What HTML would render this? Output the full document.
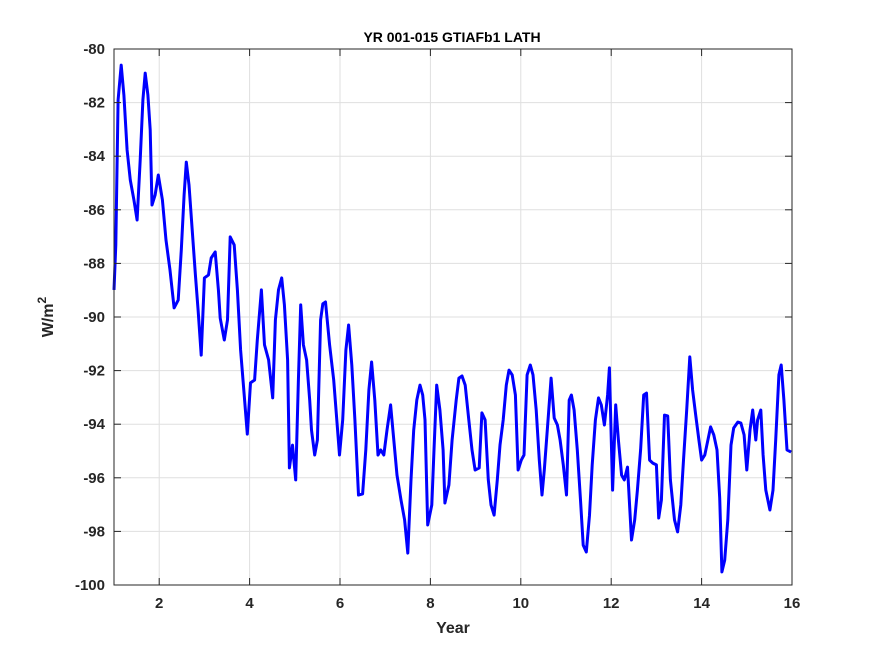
<!DOCTYPE html>
<html><head><meta charset="utf-8"><style>
html,body{margin:0;padding:0;background:#fff;}
svg{display:block;font-family:"Liberation Sans",sans-serif;}
</style></head><body>
<svg id="chart" width="875" height="656" viewBox="0 0 875 656" xmlns="http://www.w3.org/2000/svg">
<rect x="0" y="0" width="875" height="656" fill="#ffffff"/>
<rect x="114" y="49" width="678" height="536" fill="#ffffff"/>
<g id="grid"></g>
<g id="series"></g>
<rect x="114" y="49" width="678" height="536" fill="none" stroke="#262626" stroke-width="1"/>
<g id="ticks"></g>
<text x="452" y="42" text-anchor="middle" font-size="14" font-weight="bold" fill="#000">YR 001-015 GTIAFb1 LATH</text>
<text x="453" y="633" text-anchor="middle" font-size="16" font-weight="bold" fill="#262626">Year</text>
<text transform="translate(53,317) rotate(-90)" text-anchor="middle" font-size="16" font-weight="bold" fill="#262626">W/m<tspan dy="-7" font-size="12">2</tspan></text>
</svg>
<script>
const xTicks = [2,4,6,8,10,12,14,16];
const yTicks = [-80,-82,-84,-86,-88,-90,-92,-94,-96,-98,-100];
const years = [1.00,1.04,1.09,1.16,1.22,1.29,1.36,1.44,1.51,1.58,1.64,1.69,1.75,1.80,1.84,1.91,1.98,2.07,2.15,2.24,2.33,2.42,2.49,2.55,2.60,2.66,2.73,2.80,2.86,2.93,3.00,3.09,3.15,3.24,3.31,3.35,3.44,3.51,3.57,3.66,3.73,3.80,3.88,3.95,4.02,4.11,4.17,4.26,4.33,4.42,4.51,4.57,4.64,4.71,4.77,4.84,4.88,4.95,5.02,5.08,5.13,5.19,5.26,5.33,5.37,5.44,5.50,5.57,5.62,5.68,5.77,5.86,5.93,5.99,6.06,6.13,6.19,6.26,6.33,6.41,6.50,6.57,6.64,6.70,6.77,6.84,6.90,6.97,7.04,7.12,7.19,7.26,7.35,7.43,7.50,7.57,7.63,7.70,7.77,7.83,7.88,7.94,8.03,8.08,8.14,8.21,8.28,8.32,8.41,8.48,8.57,8.63,8.70,8.77,8.85,8.92,8.99,9.08,9.14,9.21,9.28,9.34,9.41,9.48,9.54,9.61,9.68,9.74,9.81,9.88,9.94,10.01,10.07,10.14,10.21,10.27,10.34,10.41,10.47,10.52,10.61,10.67,10.74,10.81,10.87,10.94,11.01,11.07,11.12,11.18,11.25,11.32,11.38,11.45,11.52,11.58,11.65,11.72,11.78,11.85,11.92,11.96,12.03,12.10,12.16,12.23,12.29,12.36,12.45,12.52,12.58,12.65,12.72,12.78,12.85,12.92,13.00,13.05,13.11,13.18,13.25,13.31,13.40,13.47,13.54,13.60,13.67,13.74,13.80,13.87,13.94,14.00,14.07,14.14,14.20,14.27,14.34,14.40,14.45,14.51,14.58,14.65,14.71,14.80,14.87,14.94,15.00,15.07,15.13,15.20,15.24,15.31,15.36,15.42,15.51,15.58,15.64,15.71,15.76,15.82,15.89,15.98];
const values = [-88.99,-87.31,-81.90,-80.60,-81.72,-83.77,-84.89,-85.63,-86.38,-84.14,-81.90,-80.90,-81.72,-83.02,-85.82,-85.45,-84.70,-85.63,-87.13,-88.25,-89.66,-89.37,-87.50,-85.45,-84.22,-85.07,-86.75,-88.43,-89.74,-91.42,-88.54,-88.43,-87.80,-87.57,-88.99,-90.04,-90.86,-90.11,-87.01,-87.31,-88.99,-91.23,-92.91,-94.37,-92.46,-92.35,-90.86,-88.99,-91.04,-91.60,-93.02,-90.11,-88.99,-88.54,-89.55,-91.60,-95.63,-94.78,-96.08,-92.35,-89.55,-91.04,-91.60,-93.10,-94.22,-95.15,-94.59,-90.11,-89.51,-89.44,-91.04,-92.35,-93.84,-95.15,-93.84,-91.23,-90.30,-91.79,-93.84,-96.64,-96.60,-94.96,-92.72,-91.68,-93.10,-95.15,-94.96,-95.15,-94.22,-93.28,-94.59,-95.90,-96.83,-97.57,-98.81,-96.08,-94.22,-93.10,-92.54,-92.91,-93.84,-97.76,-97.01,-94.96,-92.54,-93.47,-94.96,-96.94,-96.27,-94.59,-93.10,-92.28,-92.20,-92.54,-93.84,-94.96,-95.71,-95.63,-93.58,-93.84,-96.08,-97.01,-97.39,-96.08,-94.78,-93.84,-92.54,-91.98,-92.16,-92.91,-95.71,-95.34,-95.15,-92.16,-91.79,-92.16,-93.47,-95.34,-96.64,-95.71,-93.66,-92.28,-93.77,-94.03,-94.59,-95.52,-96.64,-93.10,-92.91,-93.47,-94.96,-96.83,-98.51,-98.77,-97.39,-95.52,-93.84,-93.02,-93.28,-94.03,-92.91,-91.90,-96.46,-93.28,-94.59,-95.90,-96.08,-95.60,-98.32,-97.57,-96.46,-94.96,-92.91,-92.84,-95.34,-95.45,-95.52,-97.50,-96.83,-93.66,-93.69,-96.08,-97.57,-98.02,-97.01,-95.34,-93.47,-91.49,-92.72,-93.66,-94.59,-95.34,-95.15,-94.59,-94.10,-94.40,-94.96,-96.75,-99.51,-99.07,-97.57,-94.78,-94.14,-93.92,-93.96,-94.40,-95.71,-94.22,-93.47,-94.59,-93.84,-93.47,-95.15,-96.46,-97.20,-96.46,-94.59,-92.16,-91.79,-93.10,-94.96,-95.04];

const X0=114, X1=792, Y0=585, Y1=49;
function xs(v){return X0+(v-1)/(16-1)*(X1-X0);}
function ys(v){return Y0-(v-(-100))/(20)*(Y0-Y1);}
const NS='http://www.w3.org/2000/svg';
const grid=document.getElementById('grid');
const ticks=document.getElementById('ticks');
function mk(tag,attrs,parent){const e=document.createElementNS(NS,tag);for(const k in attrs)e.setAttribute(k,attrs[k]);parent.appendChild(e);return e;}
xTicks.forEach(t=>{
  const x=xs(t);
  const g=mk('line',{x1:x,x2:x,y1:Y1,y2:Y0,stroke:'#dfdfdf','stroke-width':1},grid);
  
  
  const tk=mk('line',{x1:x,x2:x,y1:Y0,y2:Y0-7,stroke:'#262626','stroke-width':1},ticks);
  
  
  const tk2=mk('line',{x1:x,x2:x,y1:Y1,y2:Y1+7,stroke:'#262626','stroke-width':1},ticks);
  
  
  const lb=mk('text',{x:x,y:608,'text-anchor':'middle','font-size':15,'font-weight':'bold',fill:'#262626'},ticks);
  lb.textContent=String(t);
  
  
});
yTicks.forEach(t=>{
  const y=ys(t);
  const g=mk('line',{x1:X0,x2:X1,y1:y,y2:y,stroke:'#dfdfdf','stroke-width':1},grid);
  
  
  const tk=mk('line',{x1:X0,x2:X0+7,y1:y,y2:y,stroke:'#262626','stroke-width':1},ticks);
  
  
  const tk2=mk('line',{x1:X1,x2:X1-7,y1:y,y2:y,stroke:'#262626','stroke-width':1},ticks);
  
  
  const lb=mk('text',{x:105,y:y+5,'text-anchor':'end','font-size':15,'font-weight':'bold',fill:'#262626'},ticks);
  lb.textContent=String(t);
  
  
});
const d=years.map((v,i)=>(i?'L':'M')+xs(v).toFixed(1)+' '+ys(values[i]).toFixed(1)).join(' ');
const p=mk('path',{d:d,fill:'none',stroke:'#0000ff','stroke-width':3,'stroke-linejoin':'round'},document.getElementById('series'));


</script>
</body></html>
